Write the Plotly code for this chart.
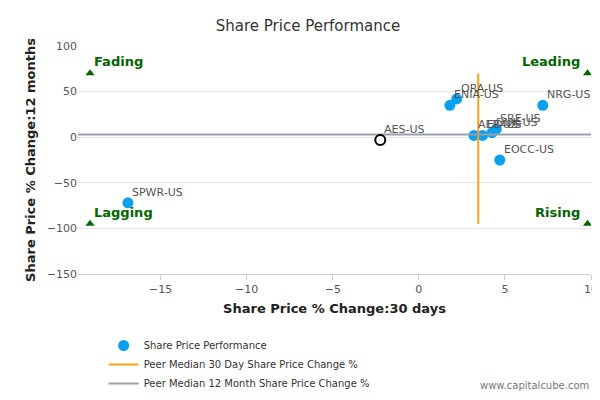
import plotly.graph_objects as go

names = ["SPWR-US", "ENIA-US", "ORA-US", "NRG-US", "AEP-US", "ED-US", "DUK-US", "SRE-US", "EOCC-US"]
x30 = [-16.9, 1.8, 2.2, 7.2, 3.2, 3.7, 4.25, 4.5, 4.7]
y12 = [-72, 35, 42, 35, 2, 2, 5, 9, -25]
label_x = ["SPWR-US", "ENIA-US", "ORA-US", "NRG-US", "AEP-US", "ED-US", "DUK-US", "SRE-US", "EOCC-US"]
focus_name = "AES-US"; focus_x = -2.24; focus_y = -3
median_x = 3.45
median_y = 3
xr = [-19.8, 10]
yr = [-150, 100]
corners = [("Fading", -19.1, 70), ("Leading", 9.8, 70), ("Lagging", -19.1, -95), ("Rising", 9.8, -95)]

fig = go.Figure()
fig.add_trace(go.Scatter(x=x30, y=y12, mode="markers", name="Share Price Performance",
    marker=dict(size=11, color="#0aa0ee"), hoverinfo="text", text=names))
fig.add_trace(go.Scatter(x=[median_x, median_x], y=[70, -95], mode="lines",
    name="Peer Median 30 Day Share Price Change %", line=dict(color="#f7a21b", width=2),
    marker=dict(symbol="diamond")))
fig.add_trace(go.Scatter(x=xr, y=[median_y, median_y], mode="lines",
    name="Peer Median 12 Month Share Price Change %", line=dict(color="#9aa0aa", width=2)))
fig.add_trace(go.Scatter(x=[focus_x], y=[focus_y], mode="markers", showlegend=False,
    marker=dict(size=10, color="white", line=dict(color="black", width=2))))
fig.add_trace(go.Scatter(x=[c[1] for c in corners], y=[c[2] for c in corners], mode="markers",
    showlegend=False, marker=dict(symbol="triangle-up", size=8, color="#006400")))

for n, x, y in zip(names + [focus_name], x30 + [focus_x], y12 + [focus_y]):
    fig.add_annotation(x=x, y=y, text=n, showarrow=False, xanchor="left", yanchor="bottom",
        xshift=2, yshift=2, font=dict(size=11, color="#555", family="DejaVu Sans"))
for t, x, y in corners:
    left = x < 0
    fig.add_annotation(x=x, y=y, text="<b>%s</b>" % t, showarrow=False,
        xanchor="left" if left else "right", yanchor="bottom", xshift=2 if left else -6, yshift=2,
        font=dict(size=13, color="#006400", family="DejaVu Sans"))

fig.add_annotation(xref="paper", yref="paper", x=1.0, y=-0.52, text="www.capitalcube.com",
    showarrow=False, xanchor="right", font=dict(size=10, color="#777", family="DejaVu Sans"))

fig.update_layout(
    width=600, height=400, plot_bgcolor="white", paper_bgcolor="white",
    margin=dict(l=70, r=10, t=38, b=105),
    title=dict(text="Share Price Performance", x=0.5, y=0.97, xanchor="center",
        font=dict(size=15, color="#333", family="DejaVu Sans")),
    font=dict(family="DejaVu Sans", size=11, color="#555"),
    xaxis=dict(range=xr, tickvals=[-15, -10, -5, 0, 5, 10], showgrid=False, zeroline=False,
        showline=True, linecolor="#ccc", ticks="outside", tickcolor="#ccc",
        title=dict(text="<b>Share Price % Change:30 days</b>", font=dict(size=13, color="#222"), standoff=8)),
    yaxis=dict(range=yr, tickvals=[-150, -100, -50, 0, 50, 100], showgrid=True, gridcolor="#e6e6e6",
        zeroline=False, title=dict(text="<b>Share Price % Change:12 months</b>", font=dict(size=13, color="#222"), standoff=8)),
    legend=dict(orientation="h", x=0.05, y=-0.25, xanchor="left", yanchor="top",
        font=dict(size=10, color="#333"), tracegroupgap=0),
)
fig.write_html("out.html")
